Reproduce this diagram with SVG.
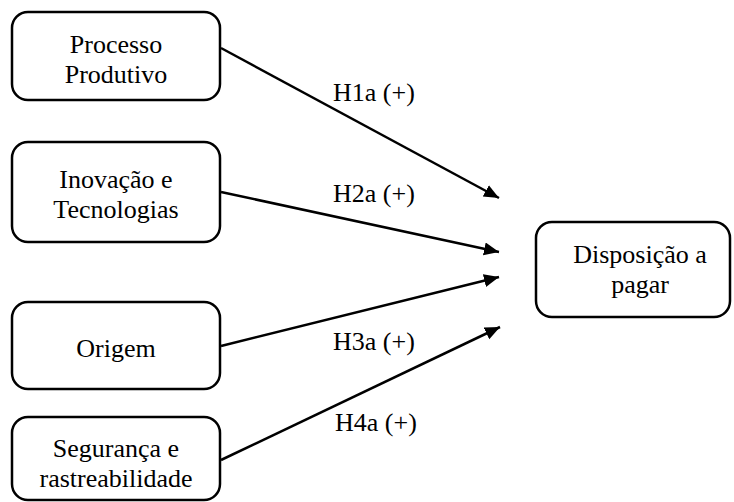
<svg xmlns="http://www.w3.org/2000/svg" width="734" height="502" viewBox="0 0 734 502">
  <style>
    .box { fill: #ffffff; stroke: #000000; stroke-width: 2.5; }
    .lbl { font-family: "Liberation Serif", "Times New Roman", serif; font-size: 26px; fill: #000000; text-anchor: middle; }
    .hyp { font-family: "Liberation Serif", "Times New Roman", serif; font-size: 26px; fill: #000000; }
    .edge { stroke: #000000; stroke-width: 2.5; fill: none; marker-end: url(#arrow); }
  </style>
  <defs>
    <marker id="arrow" markerUnits="userSpaceOnUse" markerWidth="16" markerHeight="14" refX="15" refY="6.5" orient="auto">
      <path d="M0,0 L15,6.5 L0,13 z" fill="#000000"/>
    </marker>
  </defs>
  <rect x="0" y="0" width="734" height="502" fill="#ffffff"/>

  <g id="edges">
    <line class="edge" x1="221" y1="48" x2="499" y2="198"/>
    <line class="edge" x1="221" y1="192" x2="499" y2="252"/>
    <line class="edge" x1="221" y1="346" x2="499" y2="277"/>
    <line class="edge" x1="221" y1="460" x2="500" y2="327"/>
    <text class="hyp" x="333" y="101">H1a (+)</text>
    <text class="hyp" x="333" y="202">H2a (+)</text>
    <text class="hyp" x="333" y="350">H3a (+)</text>
    <text class="hyp" x="335" y="431">H4a (+)</text>
  </g>

  <g id="processo-produtivo">
    <rect class="box" x="12" y="12" width="208" height="88" rx="16" ry="16"/>
    <text class="lbl" x="116" y="53">Processo</text>
    <text class="lbl" x="116" y="83">Produtivo</text>
  </g>

  <g id="inovacao-tecnologias">
    <rect class="box" x="12" y="142" width="208" height="100" rx="16" ry="16"/>
    <text class="lbl" x="116" y="188">Inovação e</text>
    <text class="lbl" x="116" y="218">Tecnologias</text>
  </g>

  <g id="origem">
    <rect class="box" x="12" y="302" width="208" height="87" rx="16" ry="16"/>
    <text class="lbl" x="116" y="357">Origem</text>
  </g>

  <g id="seguranca-rastreabilidade">
    <rect class="box" x="12" y="417" width="208" height="83" rx="16" ry="16"/>
    <text class="lbl" x="116" y="457">Segurança e</text>
    <text class="lbl" x="116" y="487">rastreabilidade</text>
  </g>

  <g id="disposicao-a-pagar">
    <rect class="box" x="536" y="222" width="194" height="95" rx="16" ry="16"/>
    <text class="lbl" x="640" y="263">Disposição a</text>
    <text class="lbl" x="640" y="293">pagar</text>
  </g>
</svg>
